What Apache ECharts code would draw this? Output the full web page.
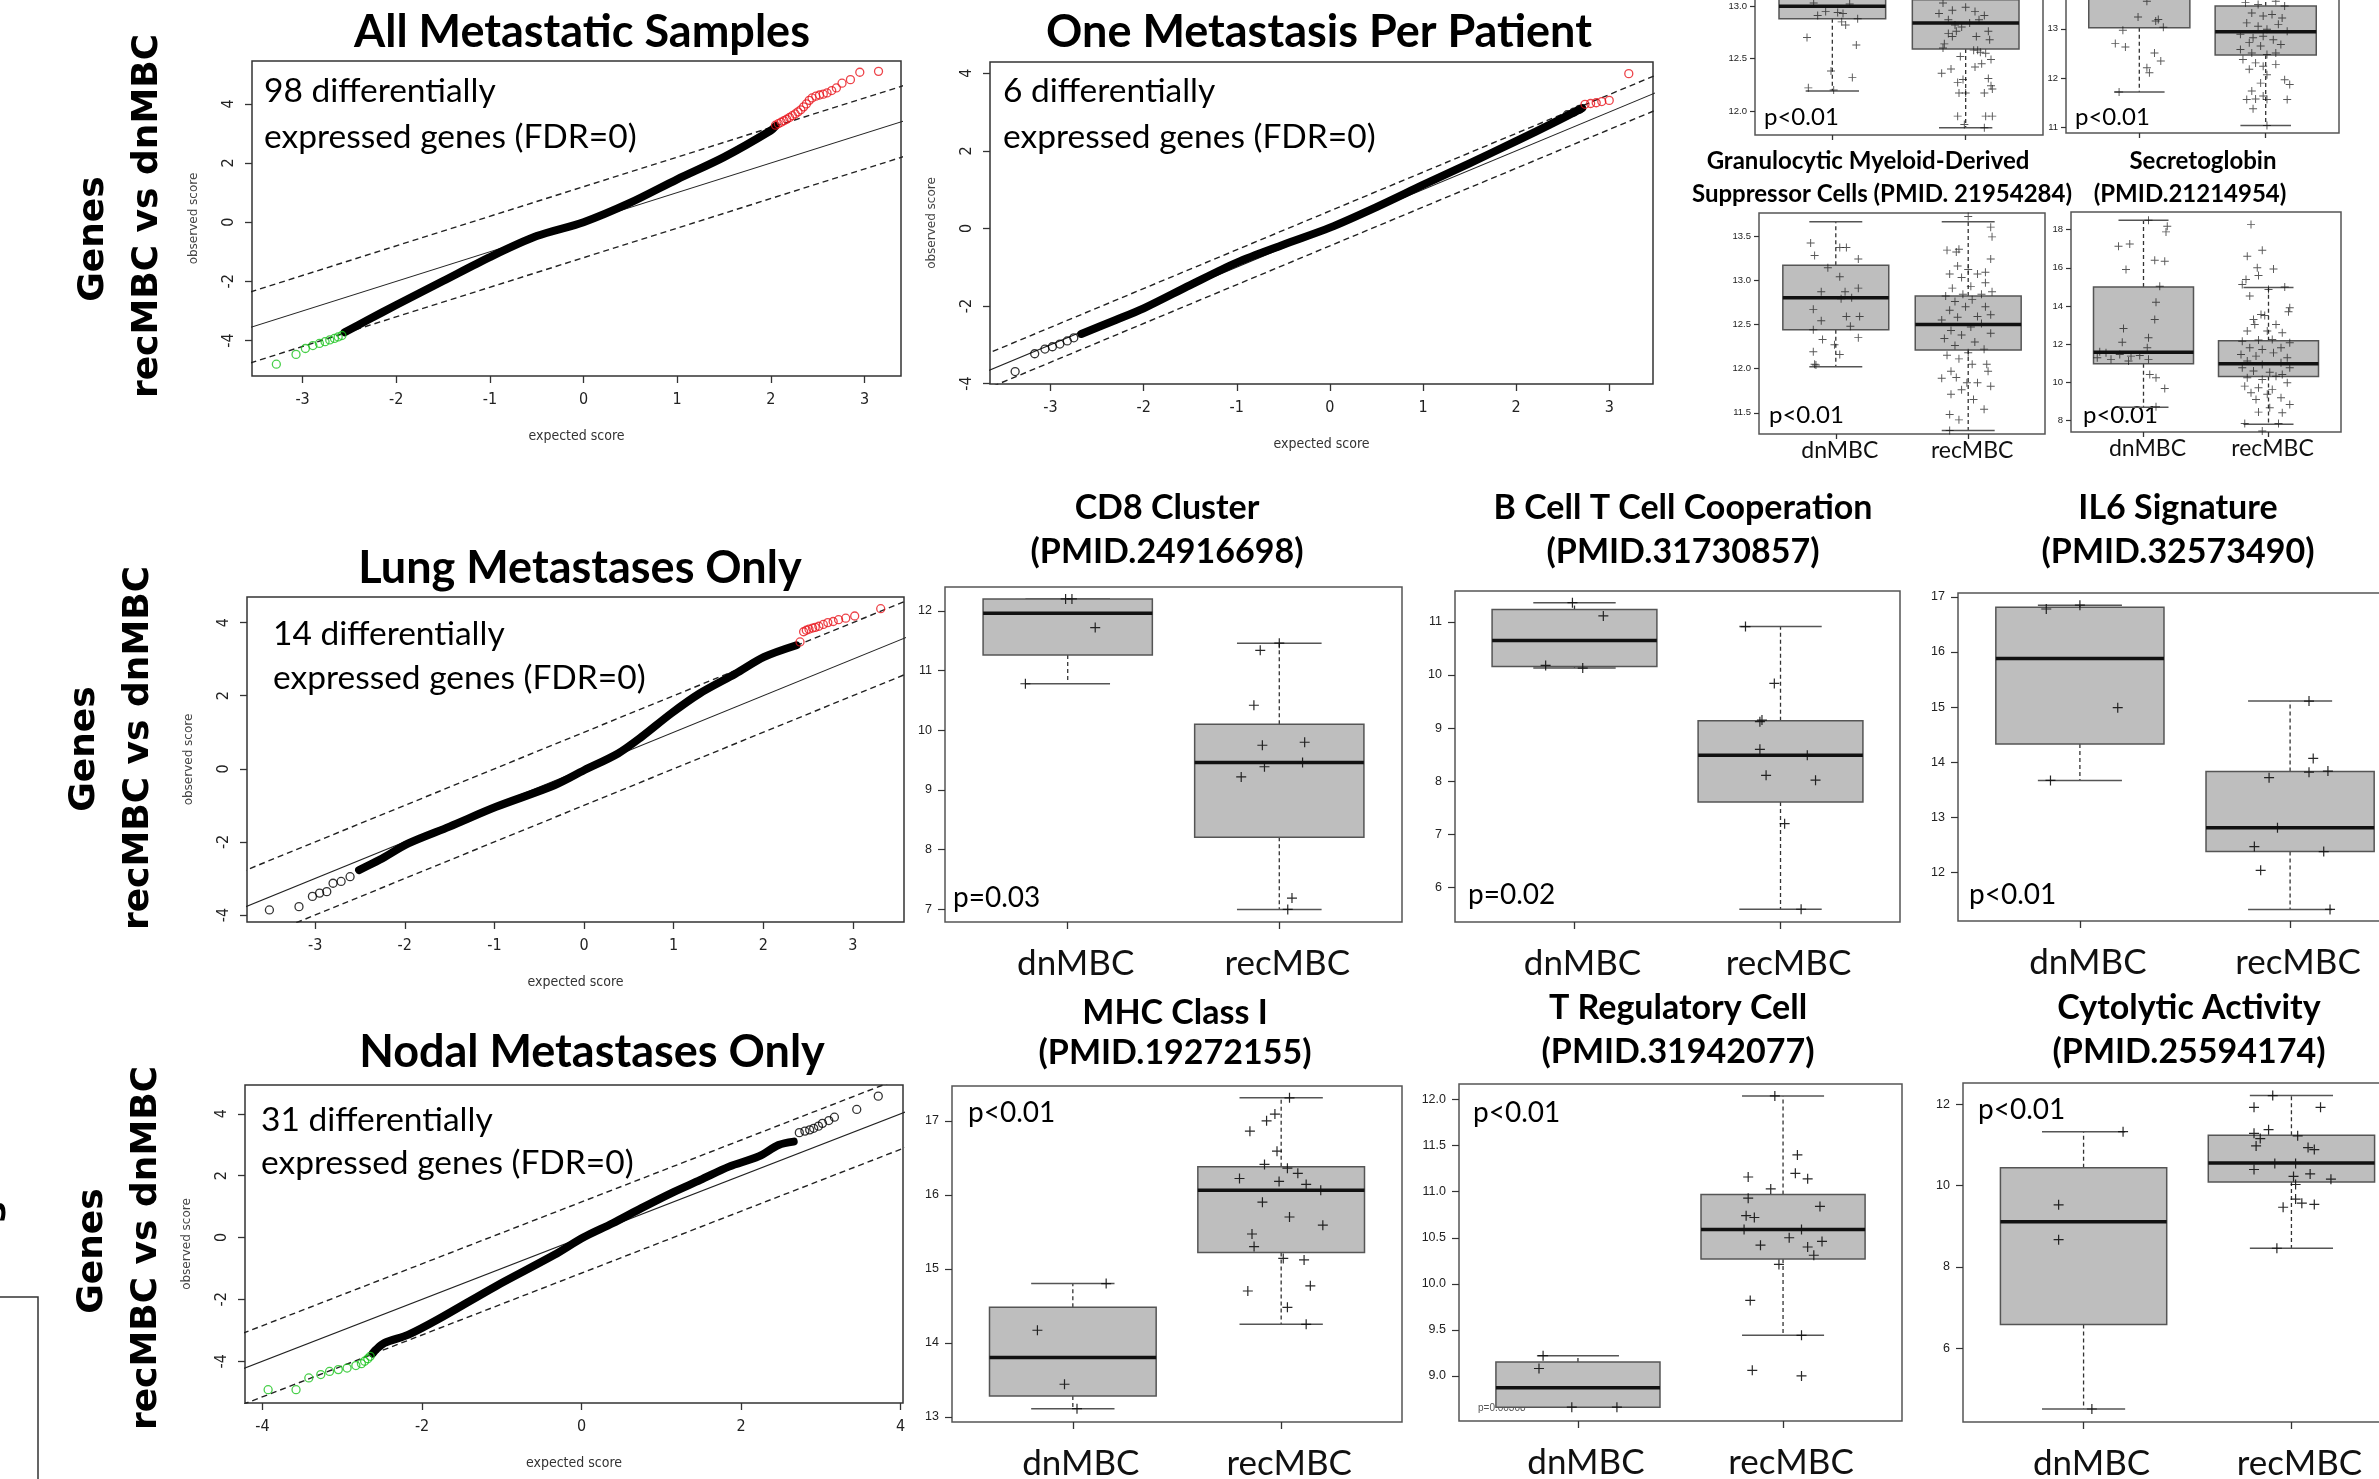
<!DOCTYPE html>
<html>
<head>
<meta charset="utf-8">
<script src="https://cdn.jsdelivr.net/npm/echarts@6/dist/echarts.min.js"></script>
<style>
  html, body { margin: 0; padding: 0; background: #fff; }
  #chart { width: 2379px; height: 1479px; }
</style>
</head>
<body>
<div id="chart"></div>
<script>
// ---- QQ plots: [expected score, observed score] ----
var qqAllCurve = [[-2.55,-3.72],[-2.3,-3.3],[-2.0,-2.8],[-1.5,-1.99],[-1.0,-1.18],[-0.5,-0.47],[0,0],[0.5,0.66],[1.0,1.45],[1.5,2.2],[2.0,3.1],[2.05,3.25]];
var qqAllRed = [[2.05,3.28],[2.08,3.33],[2.11,3.38],[2.14,3.43],[2.17,3.48],[2.2,3.54],[2.23,3.6],[2.26,3.66],[2.29,3.73],[2.32,3.8],[2.35,3.9],[2.38,4.0],[2.41,4.12],[2.44,4.2],[2.48,4.26],[2.52,4.3],[2.56,4.33],[2.6,4.37],[2.65,4.45],[2.7,4.54],[2.76,4.7],[2.85,4.82],[2.95,5.07],[3.15,5.1]];
var qqAllGreen = [[-3.28,-4.8],[-3.07,-4.47],[-2.97,-4.27],[-2.89,-4.17],[-2.82,-4.1],[-2.76,-4.04],[-2.71,-3.98],[-2.66,-3.93],[-2.62,-3.88],[-2.58,-3.83]];
var qqAllBand = [0, 1.2, -1.2];

var qqOneCurve = [[-2.67,-2.72],[-2.3,-2.36],[-2.0,-2.06],[-1.5,-1.46],[-1.0,-0.88],[-0.5,-0.42],[0,0.02],[0.5,0.55],[1.0,1.12],[1.5,1.68],[2.0,2.25],[2.4,2.72],[2.71,3.1]];
var qqOneSparse = [[-3.38,-3.69],[-3.17,-3.23],[-3.06,-3.11],[-2.98,-3.05],[-2.9,-2.98],[-2.82,-2.9],[-2.75,-2.82],[2.55,2.93],[2.62,3.0],[2.68,3.07]];
var qqOneRed = [[2.74,3.2],[2.8,3.22],[2.86,3.24],[2.92,3.27],[3.0,3.3],[3.21,3.99]];
var qqOneBand = [0, 0.45, -0.45];

var qqLungCurve = [[-2.51,-2.77],[-2.28,-2.49],[-1.96,-2.04],[-1.5,-1.58],[-0.98,-1.04],[-0.33,-0.45],[0,-0.04],[0.38,0.42],[0.64,0.87],[0.97,1.51],[1.29,2.06],[1.69,2.6],[2.01,3.06],[2.37,3.38]];
var qqLungSparse = [[-3.51,-3.86],[-3.18,-3.77],[-3.03,-3.49],[-2.95,-3.4],[-2.87,-3.36],[-2.8,-3.13],[-2.71,-3.08],[-2.61,-2.95]];
var qqLungRed = [[2.41,3.47],[2.45,3.75],[2.48,3.79],[2.51,3.82],[2.55,3.85],[2.58,3.87],[2.62,3.9],[2.67,3.95],[2.72,4.0],[2.78,4.03],[2.84,4.08],[2.92,4.12],[3.02,4.18],[3.31,4.38]];
var qqLungBand = [0, 1.0, -1.0];

var qqNodalCurve = [[-2.62,-3.75],[-2.58,-3.63],[-2.47,-3.41],[-2.17,-3.14],[-1.81,-2.66],[-1.08,-1.58],[-0.34,-0.56],[0.02,0],[0.39,0.46],[0.75,0.95],[1.12,1.43],[1.49,1.86],[1.85,2.29],[2.22,2.62],[2.47,2.99],[2.66,3.1]];
var qqNodalSparse = [[2.73,3.39],[2.8,3.44],[2.86,3.48],[2.91,3.53],[2.97,3.6],[3.02,3.69],[3.1,3.78],[3.17,3.89],[3.45,4.14],[3.72,4.57]];
var qqNodalGreen = [[-3.93,-4.92],[-3.58,-4.92],[-3.42,-4.54],[-3.27,-4.43],[-3.16,-4.33],[-3.05,-4.27],[-2.94,-4.22],[-2.83,-4.14],[-2.76,-4.08],[-2.72,-4.0],[-2.68,-3.92],[-2.65,-3.84]];
var qqNodalBand = [0, 1.15, -1.15];

// ---- Boxplots: stats [min, Q1, median, Q3, max] for dnMBC, recMBC; points [x (jittered group), score] ----
var groups = ['dnMBC', 'recMBC'];

var cd8Stats = [[10.78, 11.26, 11.96, 12.2, 12.2], [7.0, 8.21, 9.46, 10.1, 11.46]];
var cd8Points = [[0.8,10.78],[0.99,12.2],[1.02,12.2],[1.13,11.72],[1.91,11.34],[2.0,11.46],[1.88,10.42],[1.92,9.75],[2.12,9.8],[2.11,9.46],[1.93,9.39],[1.82,9.22],[2.06,7.19],[2.04,7.0]];

var bcellStats = [[10.13, 10.16, 10.65, 11.23, 11.36], [5.59, 7.61, 8.49, 9.14, 10.91]];
var bcellPoints = [[0.99,11.36],[1.14,11.11],[0.86,10.18],[1.04,10.13],[1.83,10.91],[1.97,9.84],[1.9,9.12],[1.91,9.15],[1.9,8.6],[2.13,8.49],[1.93,8.11],[2.17,8.02],[2.02,7.2],[2.1,5.59]];

var il6Stats = [[13.67, 14.33, 15.88, 16.81, 16.85], [11.33, 12.38, 12.81, 13.83, 15.11]];
var il6Points = [[0.84,16.78],[1.0,16.85],[1.18,14.99],[0.86,13.67],[2.09,15.11],[2.11,14.07],[2.09,13.82],[2.18,13.84],[1.9,13.72],[1.94,12.81],[1.83,12.47],[2.16,12.38],[1.86,12.04],[2.19,11.33]];

var mhcStats = [[13.11, 13.28, 13.8, 14.48, 14.8], [14.25, 15.22, 16.06, 16.38, 17.31]];
var mhcPoints = [[1.16,14.8],[0.83,14.17],[0.96,13.44],[1.02,13.11],[2.04,17.31],[1.97,17.09],[1.93,17.0],[1.85,16.86],[1.98,16.59],[1.92,16.41],[2.03,16.36],[2.08,16.29],[1.8,16.22],[1.99,16.18],[2.12,16.14],[2.19,16.06],[1.91,15.9],[2.04,15.7],[2.2,15.59],[1.86,15.47],[1.87,15.3],[2.01,15.14],[2.11,15.12],[2.14,14.77],[1.84,14.7],[2.03,14.48],[2.12,14.25]];

var tregStats = [[8.66, 8.66, 8.87, 9.15, 9.22], [9.44, 10.27, 10.59, 10.97, 12.04]];
var tregPoints = [[0.83,9.22],[0.81,9.08],[0.97,8.66],[1.19,8.66],[1.96,12.04],[2.07,11.4],[2.06,11.2],[2.12,11.14],[1.83,11.16],[1.94,11.03],[1.83,10.93],[2.18,10.84],[1.82,10.74],[1.86,10.72],[1.81,10.59],[2.09,10.59],[2.03,10.5],[2.19,10.46],[1.89,10.42],[2.12,10.4],[2.15,10.31],[1.98,10.21],[1.84,9.82],[2.09,9.44],[1.85,9.06],[2.09,9.0]];

var cytoStats = [[4.5, 6.58, 9.11, 10.44, 11.33], [8.46, 10.09, 10.56, 11.24, 12.22]];
var cytoPoints = [[1.19,11.33],[0.88,9.53],[0.88,8.67],[1.04,4.5],[1.91,12.22],[1.82,11.93],[2.14,11.93],[1.89,11.38],[1.82,11.29],[1.85,11.16],[2.03,11.23],[1.83,10.98],[2.08,10.94],[2.11,10.89],[1.92,10.55],[2.02,10.55],[1.82,10.4],[2.09,10.29],[2.01,10.23],[2.19,10.16],[2.02,10.03],[2.02,9.67],[2.05,9.57],[2.11,9.54],[1.96,9.47],[1.93,8.46]];

// top-right small panels (upper pair is cut by the page edge)
var topAStats = [[12.19, 12.88, 13.0, 13.22, 13.5], [11.84, 12.59, 12.84, 13.06, 13.55]];
var topAPoints = [[0.82,12.22],[1.01,12.2],[0.81,12.7],[1.18,12.63],[0.99,12.38],[1.15,12.32],[1.07,12.85],[1.1,12.82],[1.19,12.88],[0.89,12.91],[0.86,13.03],[1.04,12.94],[1.13,13.02],[0.95,12.95],[1.08,12.93],
  [1.82,12.36],[1.89,12.4],[1.94,12.27],[1.95,12.17],[2.0,12.17],[2.14,12.17],[2.19,12.24],[2.2,12.21],[2.17,12.31],[2.19,12.49],[2.15,12.55],[2.09,12.58],[2.11,12.56],[2.06,12.58],[1.83,12.6],[1.84,12.64],[1.9,12.71],[1.93,12.76],[1.97,12.8],[2.03,12.84],[2.1,12.87],[2.17,12.76],[2.18,12.68],[1.87,12.74],[1.8,12.93],[1.9,12.96],[2.0,12.99],[2.07,12.95],[2.14,12.91],[1.83,13.03],[1.94,11.95],[1.99,11.87],[2.15,11.95],[2.2,11.95],[2.14,11.84],[1.96,12.52],[1.98,12.3],[2.07,12.42],[2.12,12.45],[1.87,12.87],[1.92,12.82],[2.08,12.71]];
var topBStats = [[11.72, 13.02, 13.75, 14.2, 14.7], [11.04, 12.47, 12.94, 13.46, 14.6]];
var topBPoints = [[0.84,11.72],[0.87,12.97],[0.81,12.7],[0.89,12.63],[1.12,12.51],[1.17,12.35],[1.06,12.21],[1.08,12.11],[1.19,13.03],[0.99,13.24],[1.13,13.16],[1.06,13.56],[1.15,13.19],
  [1.84,13.53],[1.94,13.49],[2.08,13.56],[2.15,13.46],[1.89,13.32],[1.98,13.26],[2.05,13.29],[2.13,13.22],[1.85,13.12],[1.94,13.05],[2.01,12.99],[2.1,13.09],[2.17,12.95],[1.8,12.89],[1.9,12.82],[1.98,12.85],[2.06,12.78],[1.87,12.72],[1.96,12.65],[2.12,12.68],[1.8,12.58],[1.89,12.51],[2.01,12.48],[2.08,12.51],[1.82,12.38],[1.92,12.31],[1.98,12.24],[2.08,12.28],[1.87,12.18],[2.01,12.07],[2.15,11.97],[1.96,11.9],[2.19,11.87],[1.89,11.74],[1.98,11.64],[1.85,11.57],[1.92,11.58],[2.01,11.57],[1.9,11.38],[2.17,11.57],[2.01,11.04]];
var granStats = [[12.02, 12.44, 12.8, 13.17, 13.66], [11.3, 12.21, 12.5, 12.82, 13.66]];
var granPoints = [[0.81,13.42],[0.84,13.28],[1.03,13.37],[1.08,13.37],[1.17,13.24],[0.94,13.14],[1.03,13.04],[1.17,12.91],[1.07,12.87],[0.89,12.87],[0.83,12.67],[1.04,12.79],[1.12,12.8],[1.18,12.59],[1.11,12.48],[1.08,12.59],[0.89,12.54],[0.83,12.44],[0.99,12.27],[0.9,12.33],[0.83,12.19],[1.03,12.16],[0.84,12.05],[1.17,12.35],[0.85,12.04],
  [1.86,11.3],[2.01,11.25],[1.93,11.42],[1.86,11.48],[2.12,11.54],[2.04,11.65],[1.87,11.71],[1.99,11.84],[1.95,11.76],[2.17,11.8],[1.8,11.89],[1.91,11.9],[2.07,11.84],[2.15,11.97],[1.87,11.97],[2.03,12.05],[2.14,12.05],[1.93,12.11],[1.84,12.15],[2.0,12.18],[2.12,12.22],[1.9,12.26],[2.05,12.3],[1.82,12.34],[1.95,12.38],[2.17,12.4],[1.87,12.43],[2.02,12.47],[2.1,12.51],[1.8,12.55],[1.92,12.58],[2.07,12.59],[2.17,12.61],[1.86,12.66],[1.98,12.7],[2.13,12.7],[1.9,12.76],[2.03,12.78],[1.83,12.82],[1.96,12.84],[2.1,12.84],[2.18,12.87],[1.88,12.91],[2.02,12.93],[2.13,12.97],[1.95,13.03],[2.07,13.07],[1.86,13.07],[2.17,13.24],[1.92,13.16],[2.0,13.12],[2.13,13.09],[1.84,13.34],[1.91,13.32],[1.93,13.35],[2.18,13.49],[2.17,13.6],[2.0,13.72]];
var secrStats = [[8.7, 10.98, 11.58, 15.0, 18.49], [7.81, 10.32, 10.98, 12.19, 14.97]];
var secrPoints = [[1.04,18.49],[1.19,18.17],[1.18,17.88],[0.8,17.13],[0.89,17.25],[0.86,15.91],[1.09,16.4],[1.17,16.34],[1.13,15.04],[1.1,14.2],[0.84,12.83],[1.09,13.3],[1.04,12.34],[0.83,12.11],[1.03,11.82],[0.65,11.61],[0.7,11.55],[0.63,11.3],[0.81,11.47],[0.9,11.38],[0.97,11.41],[0.74,11.21],[1.04,11.21],[0.88,11.12],[1.05,10.42],[1.1,10.25],[1.17,9.69],[1.1,8.73],
  [1.86,18.26],[1.95,16.92],[1.83,16.61],[1.91,16.0],[2.04,15.94],[1.92,15.6],[1.82,15.39],[1.79,15.13],[2.13,15.0],[1.85,14.52],[2.0,14.87],[2.17,13.91],[2.16,13.7],[1.94,13.56],[1.97,13.51],[1.88,13.3],[1.89,13.03],[2.06,13.03],[1.83,12.69],[1.99,12.69],[2.11,12.6],[1.79,12.16],[1.92,12.22],[2.03,12.25],[2.17,12.08],[1.85,11.82],[1.95,11.73],[2.1,11.82],[1.78,11.47],[1.9,11.38],[2.04,11.55],[2.15,11.29],[1.83,11.12],[1.95,10.94],[2.1,11.03],[2.17,10.77],[1.79,10.77],[1.88,10.6],[2.01,10.54],[2.11,10.42],[1.83,10.25],[1.95,10.16],[2.06,10.33],[2.15,9.99],[1.81,9.81],[1.92,9.72],[2.03,9.64],[1.86,9.46],[1.99,9.38],[2.1,9.2],[1.9,9.11],[2.01,8.68],[2.17,8.85],[1.92,8.45],[2.11,8.42],[1.81,7.86],[2.08,7.86],[1.95,7.46]];

// ---- helpers ----
var chart = echarts.init(document.getElementById('chart'), null, { renderer: 'canvas' });
var plusPath = 'path://M4.4,0H5.6V4.4H10V5.6H5.6V10H4.4V5.6H0V4.4H4.4Z';
var axisFont = 'Liberation Sans Narrow, DejaVu Sans Condensed, sans-serif';

var option = {
    animation: false,
    backgroundColor: '#fff',
    grid: [], xAxis: [], yAxis: [], series: [], graphic: []
};

function renderBox(params, api) {
    var g = api.value(0);
    var pMin = api.coord([g, api.value(1)]);
    var pQ1 = api.coord([g, api.value(2)]);
    var pMd = api.coord([g, api.value(3)]);
    var pQ3 = api.coord([g, api.value(4)]);
    var pMax = api.coord([g, api.value(5)]);
    var half = api.coord([g + 0.4, api.value(3)])[0] - pMd[0];
    var cap = half / 2;
    var cx = pMd[0];
    var dash = { stroke: '#333', lineWidth: 1.3, lineDash: [4, 3] };
    var solid = { stroke: '#555', lineWidth: 1.5 };
    return {
        type: 'group',
        children: [
            { type: 'line', shape: { x1: cx, y1: pQ1[1], x2: cx, y2: pMin[1] }, style: dash },
            { type: 'line', shape: { x1: cx, y1: pQ3[1], x2: cx, y2: pMax[1] }, style: dash },
            { type: 'line', shape: { x1: cx - cap, y1: pMin[1], x2: cx + cap, y2: pMin[1] }, style: solid },
            { type: 'line', shape: { x1: cx - cap, y1: pMax[1], x2: cx + cap, y2: pMax[1] }, style: solid },
            { type: 'rect', shape: { x: cx - half, y: pQ3[1], width: 2 * half, height: pQ1[1] - pQ3[1] },
              style: { fill: '#bebebe', stroke: '#555', lineWidth: 1.5 } },
            { type: 'line', shape: { x1: cx - half, y1: pMd[1], x2: cx + half, y2: pMd[1] },
              style: { stroke: '#111', lineWidth: 3.5 } }
        ]
    };
}

function circles(i, data, color) {
    option.series.push({
        type: 'scatter', xAxisIndex: i, yAxisIndex: i, data: data, silent: true,
        symbol: 'circle', symbolSize: 8, z: 4,
        itemStyle: { color: 'rgba(0,0,0,0)', borderColor: color, borderWidth: 1.3 }
    });
}

function addQQ(p) {
    var i = option.grid.length;
    option.grid.push({
        left: p.box[0], top: p.box[1], width: p.box[2], height: p.box[3],
        show: true, borderColor: '#333', borderWidth: 1.5, backgroundColor: '#fff',
        containLabel: false, outerBoundsMode: 'none'
    });
    option.xAxis.push({
        gridIndex: i, type: 'value', min: p.x[0], max: p.x[1], position: 'bottom',
        axisLine: { show: false, onZero: false }, splitLine: { show: false },
        axisTick: { show: true, length: 7, customValues: p.xTicks, lineStyle: { color: '#333', width: 1.3 } },
        axisLabel: { customValues: p.xTicks, fontFamily: axisFont, fontSize: 16, color: '#222', margin: 16 },
        name: 'expected score', nameLocation: 'middle', nameGap: 53,
        nameTextStyle: { fontFamily: axisFont, fontSize: 14, color: '#333' }
    });
    option.yAxis.push({
        gridIndex: i, type: 'value', min: p.y[0], max: p.y[1], position: 'left',
        axisLine: { show: false, onZero: false }, splitLine: { show: false },
        axisTick: { show: true, length: 7, customValues: p.yTicks, lineStyle: { color: '#333', width: 1.3 } },
        axisLabel: { customValues: p.yTicks, rotate: 90, fontFamily: axisFont, fontSize: 16, color: '#222', margin: 15 },
        name: 'observed score', nameLocation: 'middle', nameGap: 52, nameRotate: 90,
        nameTextStyle: { fontFamily: 'DejaVu Sans, sans-serif', fontSize: 12, color: '#444' }
    });
    p.band.forEach(function (off, k) {
        option.series.push({
            type: 'line', xAxisIndex: i, yAxisIndex: i, silent: true, symbol: 'none', z: 2,
            data: [[-6, -6 + off], [6, 6 + off]],
            lineStyle: { color: '#222', width: k ? 1.4 : 1.1, type: k ? [6, 4] : 'solid' }
        });
    });
    option.series.push({
        type: 'line', xAxisIndex: i, yAxisIndex: i, silent: true, symbol: 'none', z: 3,
        data: p.curve, smooth: 0.3,
        lineStyle: { color: '#000', width: 8, cap: 'round', join: 'round' }
    });
    if (p.sparse) circles(i, p.sparse, '#000');
    if (p.red) circles(i, p.red, '#e8141b');
    if (p.green) circles(i, p.green, '#19c31c');
}

function addBox(p) {
    var i = option.grid.length;
    var big = p.big;
    option.grid.push({
        left: p.box[0], top: p.box[1], width: p.box[2], height: p.box[3],
        show: true, borderColor: '#555', borderWidth: 1.5, backgroundColor: '#fff',
        containLabel: false, outerBoundsMode: 'none'
    });
    option.xAxis.push({
        gridIndex: i, type: 'value', min: 0.42, max: 2.58, position: 'bottom',
        axisLine: { show: false, onZero: false }, splitLine: { show: false },
        axisTick: { show: true, length: big ? 7 : 5, customValues: [1, 2], lineStyle: { color: '#333', width: 1.3 } },
        axisLabel: {
            show: !!p.labels, customValues: [1, 2],
            formatter: function (v) { return groups[Math.round(v) - 1]; },
            fontFamily: 'Lato', fontSize: big ? 35 : 23, color: '#111', margin: big ? 24 : 5,
            padding: big ? [0, 0, 0, 16] : [0, 0, 0, 8]
        }
    });
    option.yAxis.push({
        gridIndex: i, type: 'value', min: p.y[0], max: p.y[1], position: 'left',
        axisLine: { show: false, onZero: false }, splitLine: { show: false },
        axisTick: { show: true, length: big ? 7 : 5, customValues: p.yTicks, lineStyle: { color: '#333', width: 1.2 } },
        axisLabel: {
            customValues: p.yTicks,
            formatter: function (v) { return v.toFixed(p.dec); },
            fontFamily: 'Liberation Sans, Arial, sans-serif', fontSize: big ? 12.5 : 9.5,
            color: '#222', margin: big ? 13 : 8
        }
    });
    option.series.push({
        type: 'custom', xAxisIndex: i, yAxisIndex: i, silent: true, z: 2,
        renderItem: renderBox, encode: { x: 0, y: [1, 2, 3, 4, 5] },
        data: p.stats.map(function (s, k) { return [k + 1].concat(s); })
    });
    option.series.push({
        type: 'scatter', xAxisIndex: i, yAxisIndex: i, silent: true, z: 3,
        data: p.points, symbol: plusPath, symbolSize: big ? 10 : 8,
        itemStyle: { color: '#111', opacity: big ? 0.9 : 0.7 }
    });
}

function txt(x, y, s, font, align, rot) {
    option.graphic.push({
        type: 'text', x: x, y: y, rotation: rot || 0, silent: true,
        style: { text: s, font: font, fill: '#000', textAlign: align || 'center', textVerticalAlign: 'middle' }
    });
}

// ---- QQ panels ----
addQQ({ box: [252, 61, 649, 315], x: [-3.54, 3.39], y: [-5.2, 5.45],
        xTicks: [-3, -2, -1, 0, 1, 2, 3], yTicks: [-4, -2, 0, 2, 4],
        band: qqAllBand, curve: qqAllCurve, red: qqAllRed, green: qqAllGreen });
addQQ({ box: [990, 62, 663, 322], x: [-3.65, 3.47], y: [-4.01, 4.29],
        xTicks: [-3, -2, -1, 0, 1, 2, 3], yTicks: [-4, -2, 0, 2, 4],
        band: qqOneBand, curve: qqOneCurve, sparse: qqOneSparse, red: qqOneRed });
addQQ({ box: [247, 597, 657, 325], x: [-3.76, 3.57], y: [-4.19, 4.7],
        xTicks: [-3, -2, -1, 0, 1, 2, 3], yTicks: [-4, -2, 0, 2, 4],
        band: qqLungBand, curve: qqLungCurve, sparse: qqLungSparse, red: qqLungRed });
addQQ({ box: [245, 1085, 658, 318], x: [-4.22, 4.03], y: [-5.35, 4.93],
        xTicks: [-4, -2, 0, 2, 4], yTicks: [-4, -2, 0, 2, 4],
        band: qqNodalBand, curve: qqNodalCurve, sparse: qqNodalSparse, green: qqNodalGreen });

// ---- small boxplots, top right ----
addBox({ box: [1755, -63, 288, 198], y: [11.77, 13.66], yTicks: [12, 12.5, 13, 13.5], dec: 1, stats: topAStats, points: topAPoints });
addBox({ box: [2066, -67, 273, 200], y: [10.89, 14.94], yTicks: [11, 12, 13, 14], dec: 0, stats: topBStats, points: topBPoints });
addBox({ box: [1759, 213, 286, 221], y: [11.26, 13.76], yTicks: [11.5, 12, 12.5, 13, 13.5], dec: 1, stats: granStats, points: granPoints, labels: true });
addBox({ box: [2071, 212, 270, 220], y: [7.41, 18.92], yTicks: [8, 10, 12, 14, 16, 18], dec: 0, stats: secrStats, points: secrPoints, labels: true });

// ---- large boxplots ----
addBox({ box: [945, 587, 457, 335], y: [6.79, 12.4], yTicks: [7, 8, 9, 10, 11, 12], dec: 0, stats: cd8Stats, points: cd8Points, labels: true, big: true });
addBox({ box: [1455, 591, 445, 331], y: [5.35, 11.58], yTicks: [6, 7, 8, 9, 10, 11], dec: 0, stats: bcellStats, points: bcellPoints, labels: true, big: true });
addBox({ box: [1958, 593, 454, 328], y: [11.12, 17.07], yTicks: [12, 13, 14, 15, 16, 17], dec: 0, stats: il6Stats, points: il6Points, labels: true, big: true });
addBox({ box: [952, 1086, 450, 336], y: [12.93, 17.47], yTicks: [13, 14, 15, 16, 17], dec: 0, stats: mhcStats, points: mhcPoints, labels: true, big: true });
addBox({ box: [1459, 1084, 443, 337], y: [8.51, 12.17], yTicks: [9, 9.5, 10, 10.5, 11, 11.5, 12], dec: 1, stats: tregStats, points: tregPoints, labels: true, big: true });
addBox({ box: [1963, 1083, 449, 339], y: [4.18, 12.53], yTicks: [6, 8, 10, 12], dec: 0, stats: cytoStats, points: cytoPoints, labels: true, big: true });

// ---- titles and annotations ----
var titleBig = 'bold 45px Lato, sans-serif';
var titleMid = 'bold 34px Lato, sans-serif';
var titleSmall = 'bold 24px Lato, sans-serif';
var noteFont = '33.5px Lato, sans-serif';
var rowFont = 'bold 36px "DejaVu Sans", sans-serif';

txt(582, 32, 'All Metastatic Samples', titleBig);
txt(1319, 32, 'One Metastasis Per Patient', titleBig);
txt(580, 568, 'Lung Metastases Only', titleBig);
txt(592, 1052, 'Nodal Metastases Only', titleBig);

txt(264, 91, '98 differentially', noteFont, 'left');
txt(264, 137, 'expressed genes (FDR=0)', noteFont, 'left');
txt(1003, 91, '6 differentially', noteFont, 'left');
txt(1003, 137, 'expressed genes (FDR=0)', noteFont, 'left');
txt(273, 634, '14 differentially', noteFont, 'left');
txt(273, 678, 'expressed genes (FDR=0)', noteFont, 'left');
txt(261, 1120, '31 differentially', noteFont, 'left');
txt(261, 1163, 'expressed genes (FDR=0)', noteFont, 'left');

txt(1868, 161, 'Granulocytic Myeloid-Derived', titleSmall);
txt(1882, 194, 'Suppressor Cells (PMID. 21954284)', titleSmall);
txt(2203, 161, 'Secretoglobin', titleSmall);
txt(2190, 194, '(PMID.21214954)', titleSmall);

txt(1167, 508, 'CD8 Cluster', titleMid);
txt(1167, 552, '(PMID.24916698)', titleMid);
txt(1683, 508, 'B Cell T Cell Cooperation', titleMid);
txt(1683, 552, '(PMID.31730857)', titleMid);
txt(2178, 508, 'IL6 Signature', titleMid);
txt(2178, 552, '(PMID.32573490)', titleMid);
txt(1175, 1013, 'MHC Class I', titleMid);
txt(1175, 1053, '(PMID.19272155)', titleMid);
txt(1678, 1008, 'T Regulatory Cell', titleMid);
txt(1678, 1052, '(PMID.31942077)', titleMid);
txt(2189, 1008, 'Cytolytic Activity', titleMid);
txt(2189, 1052, '(PMID.25594174)', titleMid);

txt(1764, 117, 'p<0.01', '24px Lato, sans-serif', 'left');
txt(2075, 117, 'p<0.01', '24px Lato, sans-serif', 'left');
txt(1769, 415, 'p<0.01', '24px Lato, sans-serif', 'left');
txt(2083, 415, 'p<0.01', '24px Lato, sans-serif', 'left');
txt(953, 898, 'p=0.03', '28px Lato, sans-serif', 'left');
txt(1468, 895, 'p=0.02', '28px Lato, sans-serif', 'left');
txt(1969, 895, 'p<0.01', '28px Lato, sans-serif', 'left');
txt(968, 1113, 'p<0.01', '28px Lato, sans-serif', 'left');
txt(1473, 1113, 'p<0.01', '28px Lato, sans-serif', 'left');
txt(1978, 1110, 'p<0.01', '28px Lato, sans-serif', 'left');
option.graphic.push({ type: 'text', x: 1478, y: 1408, silent: true,
    style: { text: 'p=0.00308', font: '10px "Liberation Sans", sans-serif', fill: '#555', textAlign: 'left', textVerticalAlign: 'middle' } });

// row labels
txt(94, 239, 'Genes', rowFont, 'center', Math.PI / 2);
txt(148, 216, 'recMBC vs dnMBC', rowFont, 'center', Math.PI / 2);
txt(85, 749, 'Genes', rowFont, 'center', Math.PI / 2);
txt(139, 748, 'recMBC vs dnMBC', rowFont, 'center', Math.PI / 2);
txt(93, 1251, 'Genes', rowFont, 'center', Math.PI / 2);
txt(147, 1248, 'recMBC vs dnMBC', rowFont, 'center', Math.PI / 2);

// cut-off pieces at the left edge
txt(-4, 1212, 's', rowFont, 'center', Math.PI / 2);
option.graphic.push({ type: 'polyline', silent: true,
    shape: { points: [[0, 1297], [38, 1297], [38, 1479]] },
    style: { stroke: '#333', lineWidth: 1.5, fill: null } });

chart.setOption(option);
</script>
</body>
</html>
